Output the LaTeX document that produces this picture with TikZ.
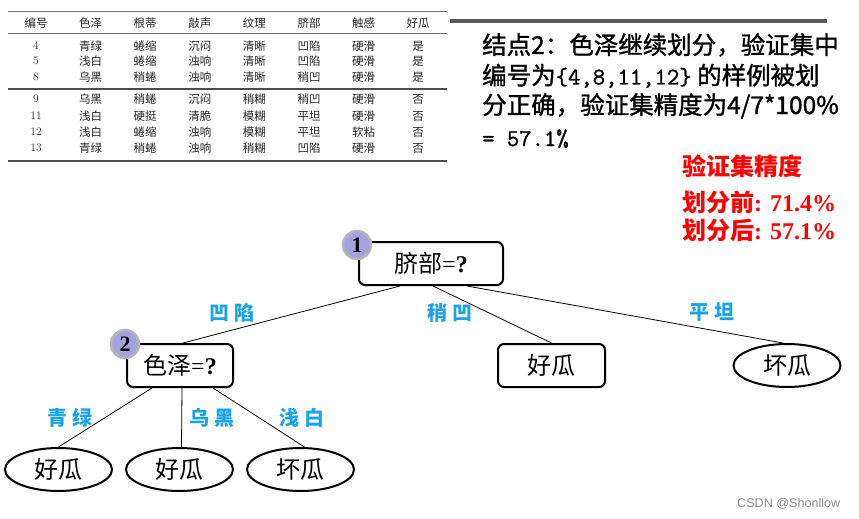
\documentclass[tikz,border=0pt]{standalone}
\usepackage{fontspec}
\newfontfamily\cjk{Noto Sans CJK SC}
\newfontfamily\cjkp{Noto Sans CJK SC}[FakeBold=1.2]
\newfontfamily\monop{Latin Modern Mono}[FakeBold=1.2]
\newfontfamily\tnr{Liberation Serif}
\newfontfamily\lsans{Liberation Sans}
\usetikzlibrary{shapes.geometric}
\definecolor{lblblue}{HTML}{1AA3E6}
\definecolor{badgefill}{HTML}{A3A3DD}
\definecolor{badgeedge}{HTML}{B5B5B5}
\begin{document}
\begin{tikzpicture}[x=1pt,y=-1pt,
  tcell/.style={font=\fontsize{11.5}{13}\selectfont, text=black!85, inner sep=0pt, anchor=center},
  rbox/.style={draw, line width=2pt, rounded corners=6pt, minimum width=#1, minimum height=43pt, inner sep=0pt, font=\fontsize{24}{28}\selectfont},
  leaf/.style={ellipse, draw, line width=2pt, minimum width=107pt, minimum height=43pt, inner sep=0pt, font=\cjk\fontsize{24}{28}\selectfont},
  badge/.style={circle, fill=badgefill, draw=badgeedge, line width=2.5pt, minimum size=28pt, inner sep=0pt, font=\tnr\bfseries\fontsize{22}{24}\selectfont},
  lbl/.style={text=lblblue, font=\cjk\bfseries\fontsize{20}{24}\selectfont, inner sep=0pt},
  conn/.style={line width=0.8pt},
  para/.style={anchor=base west, inner sep=0pt, font=\cjkp\fontsize{24.5}{30}\selectfont},
  redt/.style={anchor=base west, inner sep=0pt, text=red, font=\cjk\bfseries\fontsize{24}{28}\selectfont}]
\useasboundingbox[fill=white] (0,0) rectangle (859,519);

% table rules
\draw[line width=1.5pt, black!55] (8,11.7) -- (447,11.7);
\draw[line width=0.9pt, black!55] (8,33) -- (447,33);
\draw[line width=2pt, black!70] (8,89) -- (447,89);
\draw[line width=2pt, black!70] (8,161) -- (447,161);

% table cells
\foreach \yy/\row [count=\r] in {
  23/{编号,色泽,根蒂,敲声,纹理,脐部,触感,好瓜},
  46/{4,青绿,蜷缩,沉闷,清晰,凹陷,硬滑,是},
  61/{5,浅白,蜷缩,浊响,清晰,凹陷,硬滑,是},
  77/{8,乌黑,稍蜷,浊响,清晰,稍凹,硬滑,是},
  99/{9,乌黑,稍蜷,沉闷,稍糊,稍凹,硬滑,否},
  116/{11,浅白,硬挺,清脆,模糊,平坦,硬滑,否},
  132/{12,浅白,蜷缩,浊响,模糊,平坦,软粘,否},
  148/{13,青绿,稍蜷,浊响,稍糊,凹陷,硬滑,否}}{
  \foreach \c [count=\i] in \row {
    \ifnum\r>1 \ifnum\i=1 \def\ff{\rmfamily}\else\def\ff{\cjk}\fi\else\def\ff{\cjk}\fi
    \node[tcell] (t\r-\i) at ({36+(\i-1)*54.6},\yy) {\ff\c};
  }
}

% top right gray bar
\draw[line width=4pt, black!65] (450,20.7) -- (827,20.7);

% paragraph
\node[para] (p1) at (482,54) {结点2：色泽继续划分，验证集中};
\node[para] (p2) at (482,84.5) {编号为{\monop\fontsize{24}{28}\selectfont\{4,8,11,12\}} 的样例被划};
\node[para] (p3) at (482,114) {分正确，验证集精度为4/7*100\%};
\node[para] (p4) at (482,146) {{\monop\fontsize{24}{28}\selectfont = 57.1\%}};

% red text
\node[redt] (r1) at (682,175) {验证集精度};
\node[redt] (r2) at (682,211) {划分前{\tnr: 71.4\%}};
\node[redt] (r3) at (682,239) {划分后{\tnr: 57.1\%}};

% tree nodes
\node[rbox=144pt] (n1) at (431,263.5) {{\cjk 脐部}{\tnr=\textbf{?}}};
\node[rbox=106pt] (n2) at (180,365.5) {{\cjk 色泽}{\tnr=\textbf{?}}};
\node[rbox=107pt] (g1) at (551.5,365.5) {\cjk 好瓜};
\node[leaf] (b1) at (787,365.5) {坏瓜};
\node[leaf] (l1) at (58.5,469.5) {好瓜};
\node[leaf] (l2) at (179.5,469.5) {好瓜};
\node[leaf] (l3) at (300.5,469.5) {坏瓜};

% connectors
\draw[conn] ([xshift=-31pt]n1.south) -- ([xshift=3pt]n2.north);
\draw[conn] ([xshift=2pt]n1.south) -- (g1.north);
\draw[conn] ([xshift=36pt]n1.south) -- ([xshift=-4pt]b1.north);
\draw[conn] ([xshift=-28pt]n2.south) -- (l1.north);
\draw[conn] ([xshift=2pt]n2.south) -- ([xshift=2pt]l2.north);
\draw[conn] ([xshift=33pt]n2.south) -- ([xshift=4pt]l3.north);

% badges
\node[badge] (c1) at (357,245) {1};
\node[badge] (c2) at (125,344) {2};

% branch labels
\node[lbl] (e1) at (232,313) {凹\hspace{5pt}陷};
\node[lbl] (e2) at (450,313) {稍\hspace{5pt}凹};
\node[lbl] (e3) at (712,312) {平\hspace{5pt}坦};
\node[lbl] (e4) at (70,418) {青\hspace{5pt}绿};
\node[lbl] (e5) at (212,418) {乌\hspace{5pt}黑};
\node[lbl] (e6) at (302,418) {浅\hspace{5pt}白};

% watermark
\node[anchor=west, inner sep=0pt, text=black!45, font=\lsans\fontsize{12.6}{14}\selectfont] (wm) at (737,504) {CSDN @Shonllow};
\end{tikzpicture}
\end{document}
